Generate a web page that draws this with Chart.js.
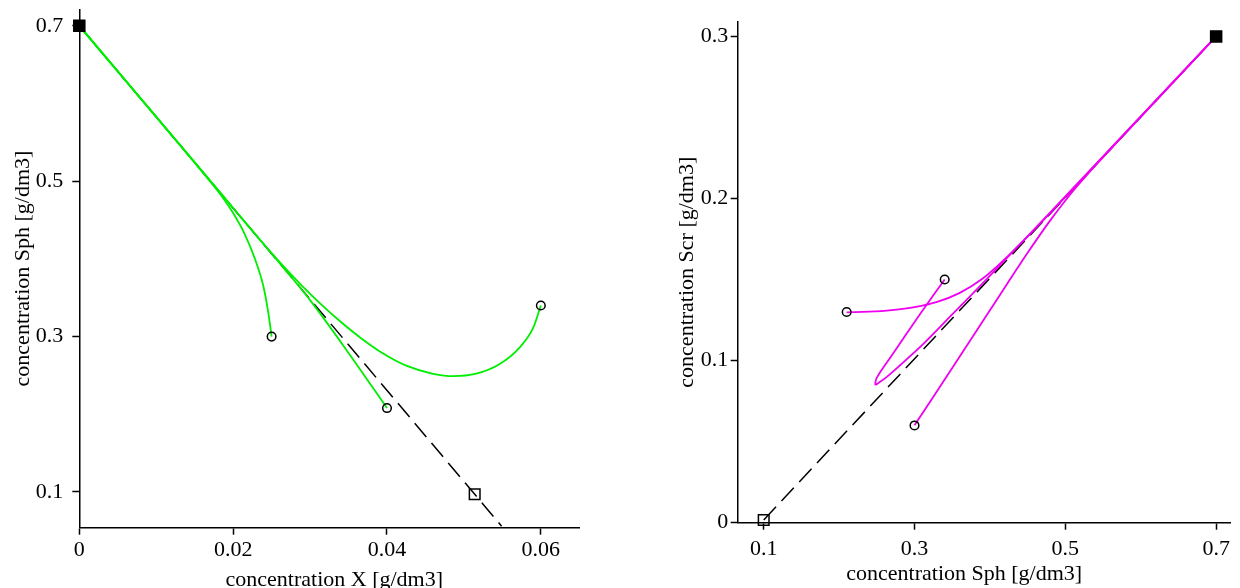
<!DOCTYPE html>
<html>
<head>
<meta charset="utf-8">
<title>Concentration trajectories</title>
<script src="https://cdn.jsdelivr.net/npm/chart.js@4.4.1/dist/chart.umd.min.js"></script>
<style>
  body { margin: 0; background: #fff; }
  #wrap { position: relative; width: 1240px; height: 588px; overflow: hidden; }
  #wrap canvas { position: absolute; top: 0; }
</style>
</head>
<body>
<div id="wrap">
  <canvas id="chartX" width="620" height="588" style="left:0"></canvas>
  <canvas id="chartS" width="620" height="588" style="left:620px"></canvas>
</div>
<script>
// ---- left plot: X vs Sph ----
const leftXTicks = [0, 0.02, 0.04, 0.06];
const leftYTicks = [0.1, 0.3, 0.5, 0.7];

const xA = [0, 0.008, 0.0165, 0.0185, 0.02, 0.0215, 0.0228, 0.0239, 0.0246, 0.025];
const yA = [0.7, 0.606, 0.506, 0.481, 0.459, 0.432, 0.401, 0.366, 0.329, 0.300];
const xB = [0, 0.01, 0.02, 0.026, 0.03, 0.035, 0.04];
const yB = [0.7, 0.583, 0.4655, 0.395, 0.347, 0.279, 0.208];
const xC = [0, 0.01, 0.02, 0.0235, 0.0265, 0.0287, 0.0313, 0.0339, 0.0365, 0.0395, 0.0425, 0.046, 0.0486, 0.0516, 0.0546, 0.0572, 0.059, 0.06];
const yC = [0.7, 0.583, 0.4655, 0.4245, 0.3909, 0.368, 0.3428, 0.3197, 0.2989, 0.2782, 0.2626, 0.2521, 0.249, 0.2522, 0.2643, 0.2855, 0.3111, 0.34];
const xLeftDash = [0, 0.0549];
const yLeftDash = [0.7, 0.056];
const xLeftStart = [0], yLeftStart = [0.7];
const xLeftEnd = [0.025, 0.04, 0.06], yLeftEnd = [0.3, 0.208, 0.34];
const xLeftSteady = [0.0514], yLeftSteady = [0.097];

// ---- right plot: Sph vs Scr ----
const rightXTicks = [0.1, 0.3, 0.5, 0.7];
const rightYTicks = [0, 0.1, 0.2, 0.3];

const xD = [0.21, 0.24, 0.27, 0.30, 0.33, 0.36, 0.39, 0.415, 0.44, 0.47, 0.52, 0.6, 0.7];
const yD = [0.1298, 0.1302, 0.1312, 0.133, 0.1362, 0.1418, 0.1505, 0.1605, 0.1718, 0.1862, 0.2107, 0.2504, 0.3];
const xE = [0.7, 0.6, 0.5, 0.44, 0.39, 0.35, 0.31, 0.28, 0.262, 0.252, 0.248, 0.25, 0.27, 0.29, 0.31, 0.34];
const yE = [0.3, 0.2507, 0.2013, 0.1718, 0.1475, 0.1285, 0.1095, 0.0968, 0.0895, 0.0862, 0.0852, 0.0895, 0.1033, 0.117, 0.1305, 0.15];
const xF = [0.3, 0.35, 0.4, 0.45, 0.48, 0.51, 0.55, 0.6, 0.7];
const yF = [0.0601, 0.0955, 0.131, 0.1665, 0.1865, 0.2045, 0.2255, 0.2505, 0.3];
const xRightDash = [0.1, 0.7];
const yRightDash = [0.0017, 0.3];
const xRightStart = [0.7], yRightStart = [0.3];
const xRightEnd = [0.21, 0.34, 0.3], yRightEnd = [0.13, 0.15, 0.06];
const xRightSteady = [0.1], yRightSteady = [0.0017];

const GREEN = '#00ee00';
const MAGENTA = '#f000f0';
const FONT = { family: '"Liberation Serif", "Times New Roman", serif', size: 22 };

function pts(xs, ys) {
  return xs.map((x, i) => ({ x: x, y: ys[i] }));
}

// smooth curve; the looping one can't use monotone interpolation
function curve(xs, ys, color, loop) {
  const ds = { data: pts(xs, ys), showLine: true, borderColor: color, borderWidth: 1.8,
               pointRadius: 0, order: 2 };
  if (loop) ds.tension = 0.3; else ds.cubicInterpolationMode = 'monotone';
  return ds;
}
function dashed(xs, ys) {
  return { data: pts(xs, ys), showLine: true, borderColor: '#000', borderWidth: 1.5,
           borderDash: [18, 8], pointRadius: 0, order: 3 };
}
function marker(xs, ys, style, r, fill) {
  return { data: pts(xs, ys), showLine: false, pointStyle: style, pointRadius: r,
           pointBorderColor: '#000', pointBackgroundColor: fill, pointBorderWidth: 1.5,
           clip: false, order: 1 };
}

function makeScale(tickVals, min, max, boxSize, horizontal, tickLen, labelPad, title) {
  return {
    type: 'linear', min: min, max: max,
    afterBuildTicks: s => { s.ticks = tickVals.map(v => ({ value: v })); },
    afterFit: s => {
      if (horizontal) s.height = boxSize; else s.width = boxSize;
      s.paddingTop = 0; s.paddingBottom = 0; s.paddingLeft = 0; s.paddingRight = 0;
    },
    grid: { drawOnChartArea: false, drawTicks: true, tickLength: tickLen, tickColor: '#000', tickWidth: 1.5 },
    border: { display: true, color: '#000', width: 1.5 },
    ticks: { color: '#000', font: FONT, padding: labelPad, maxRotation: 0, autoSkip: false,
             callback: v => String(v) },
    title: title ? { display: true, text: title, color: '#000', font: FONT, padding: { top: 0, bottom: 0 } }
                 : { display: false }
  };
}

// x axis title drawn by hand so it can sit off-centre like the original
const xTitle = {
  id: 'xTitle',
  afterDraw(chart, args, o) {
    const ctx = chart.ctx, a = chart.chartArea;
    ctx.save();
    ctx.font = FONT.size + 'px ' + FONT.family;
    ctx.fillStyle = '#000';
    ctx.textAlign = 'center';
    ctx.textBaseline = 'alphabetic';
    ctx.fillText(o.text, (a.left + a.right) / 2 + o.dx, chart.height - o.fromBottom);
    ctx.restore();
  }
};

function baseOptions(pad, xScale, yScale, titleOpts) {
  return {
    responsive: false, animation: false, devicePixelRatio: 1,
    layout: { padding: pad },
    plugins: { legend: { display: false }, tooltip: { enabled: false }, xTitle: titleOpts },
    scales: { x: xScale, y: yScale }
  };
}

new Chart(document.getElementById('chartX'), {
  type: 'scatter',
  data: { datasets: [
    marker(xLeftStart, yLeftStart, 'rect', 7.8, '#000'),
    marker(xLeftEnd, yLeftEnd, 'circle', 4.3, 'rgba(0,0,0,0)'),
    marker(xLeftSteady, yLeftSteady, 'rect', 7.5, 'rgba(0,0,0,0)'),
    curve(xA, yA, GREEN),
    curve(xB, yB, GREEN),
    curve(xC, yC, GREEN),
    dashed(xLeftDash, yLeftDash)
  ] },
  options: baseOptions(
    { left: 10, top: 6, right: 40.7, bottom: 0 },
    makeScale(leftXTicks, 0, 0.065, 60.3, true, 7, 2, null),
    makeScale(leftYTicks, 0.054, 0.7213, 69.3, false, 7, 9, 'concentration Sph [g/dm3]'),
    { text: 'concentration X [g/dm3]', dx: 5, fromBottom: 2 }
  ),
  plugins: [xTitle]
});

new Chart(document.getElementById('chartS'), {
  type: 'scatter',
  data: { datasets: [
    marker(xRightStart, yRightStart, 'rect', 7.8, '#000'),
    marker(xRightEnd, yRightEnd, 'circle', 4.3, 'rgba(0,0,0,0)'),
    marker(xRightSteady, yRightSteady, 'rect', 7.5, 'rgba(0,0,0,0)'),
    curve(xD, yD, MAGENTA),
    curve(xE, yE, MAGENTA, true),
    curve(xF, yF, MAGENTA),
    dashed(xRightDash, yRightDash)
  ] },
  options: baseOptions(
    { left: 53.8, top: 21.7, right: 3.3, bottom: 0 },
    makeScale(rightXTicks, 0.0655, 0.7193, 65.3, true, 7, 6, null),
    makeScale(rightYTicks, 0, 0.30907, 63.9, false, 7, 2.4, 'concentration Scr [g/dm3]'),
    { text: 'concentration Sph [g/dm3]', dx: -20, fromBottom: 8 }
  ),
  plugins: [xTitle]
});
</script>
</body>
</html>
